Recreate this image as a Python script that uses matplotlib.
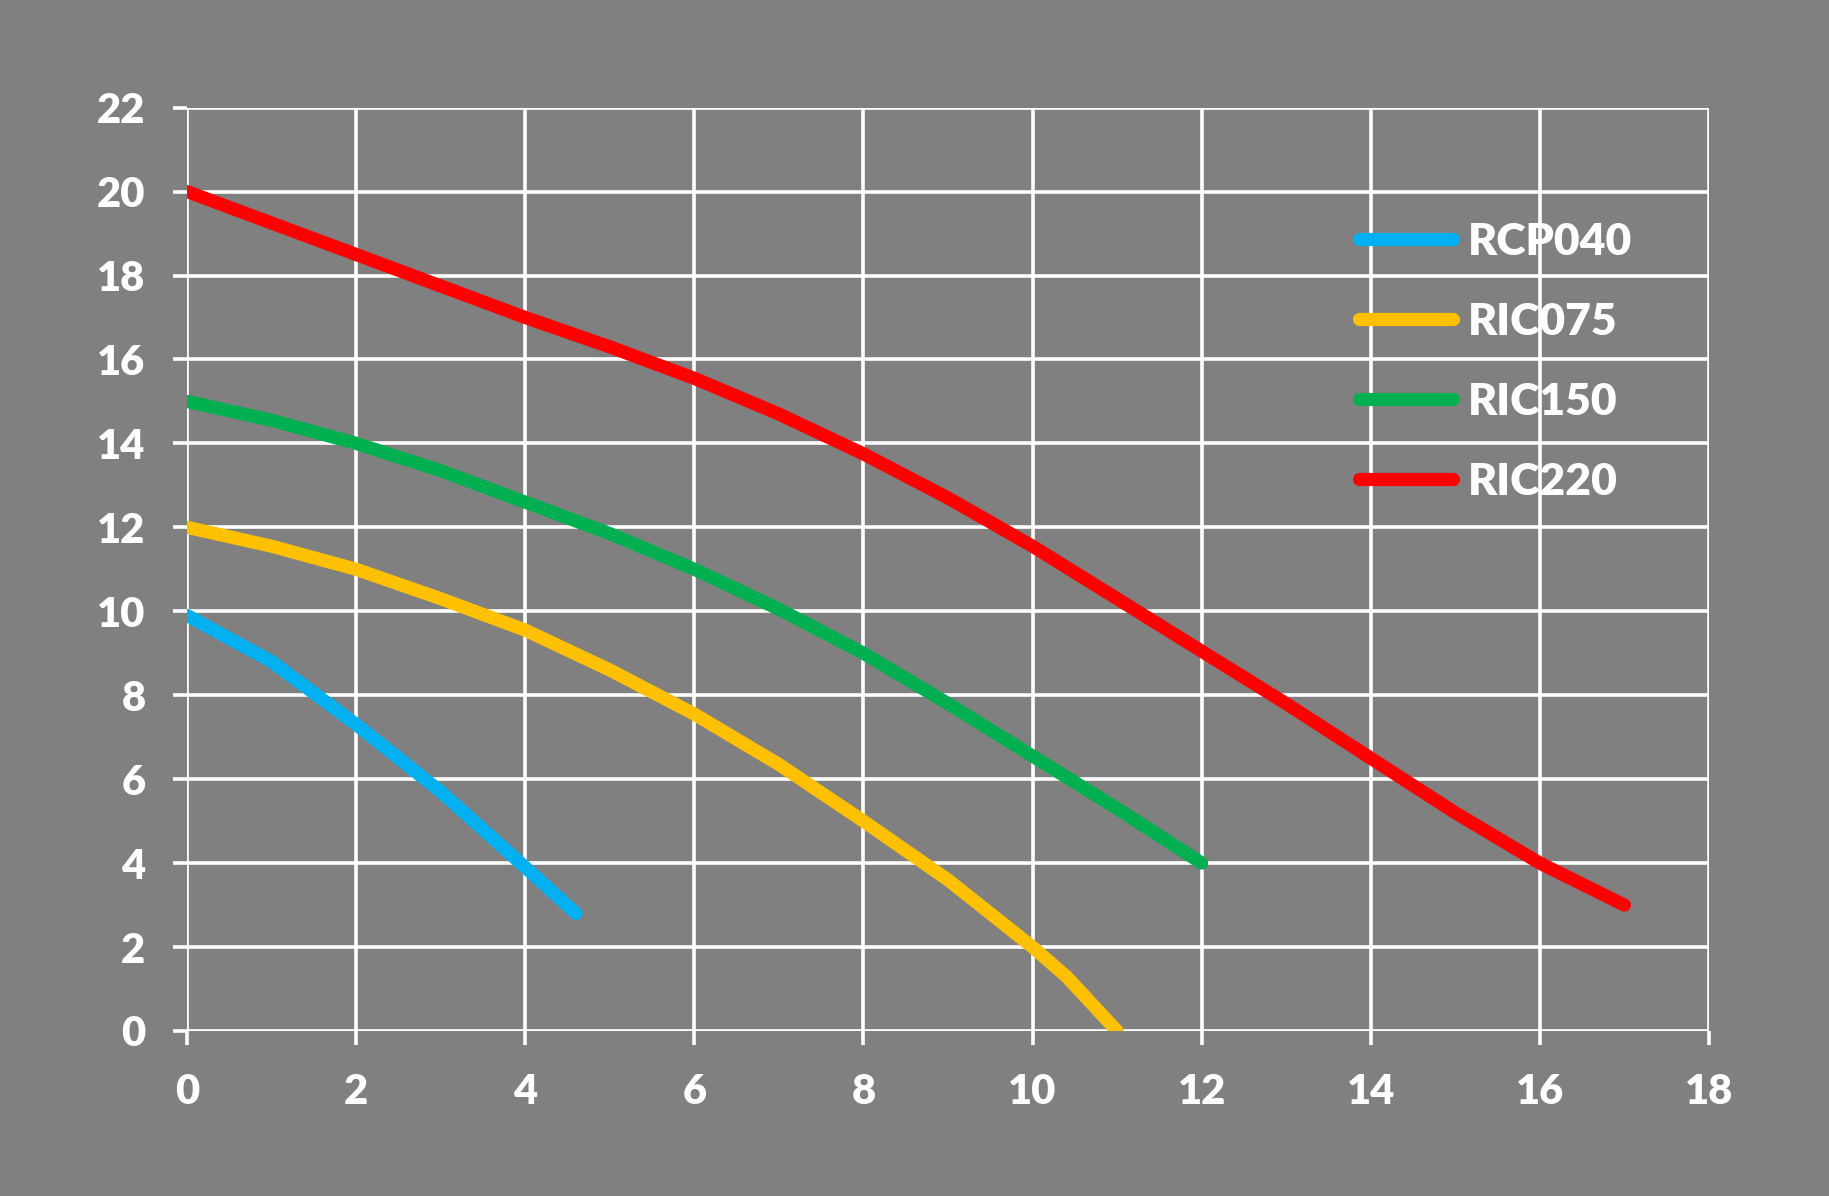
import matplotlib as mpl
mpl.use('Agg')
import matplotlib.pyplot as plt

# pump curves
rcp040_x = [0, 1, 2, 3, 4, 4.6]
rcp040_y = [9.9, 8.8, 7.3, 5.7, 3.9, 2.8]

ric075_x = [0, 1, 2, 3, 4, 5, 6, 7, 8, 9, 10, 10.4, 11]
ric075_y = [12, 11.55, 11, 10.3, 9.55, 8.6, 7.55, 6.35, 5.0, 3.6, 2.0, 1.3, 0]

ric150_x = [0, 1, 2, 3, 4, 5, 6, 7, 8, 9, 10, 11, 12]
ric150_y = [15, 14.55, 14.0, 13.35, 12.6, 11.85, 11.0, 10.05, 9.0, 7.8, 6.55, 5.3, 4.0]

ric220_x = [0, 1, 2, 3, 4, 5, 6, 7, 8, 9, 10, 11, 12, 13, 14, 15, 16, 17]
ric220_y = [20, 19.25, 18.5, 17.75, 17.0, 16.3, 15.55, 14.7, 13.75, 12.7, 11.55, 10.3, 9.05, 7.8, 6.5, 5.2, 4.0, 3.0]

series = [
    ('RCP040', rcp040_x, rcp040_y, '#00B0F0'),
    ('RIC075', ric075_x, ric075_y, '#FFC000'),
    ('RIC150', ric150_x, ric150_y, '#00B050'),
    ('RIC220', ric220_x, ric220_y, '#FF0000'),
]

xticks = list(range(0, 19, 2))
yticks = list(range(0, 23, 2))

plt.rcParams['font.family'] = ['Lato', 'DejaVu Sans']

fig = plt.figure(figsize=(18.29, 11.96), dpi=100, facecolor='#808080')
ax = fig.add_axes([0.1023, 0.138, 0.832, 0.772])
ax.set_facecolor('#808080')

for name, xs, ys, col in series:
    ax.plot(xs, ys, color=col, lw=9.5, label=name, solid_capstyle='round',
            solid_joinstyle='round', zorder=3)

ax.set_xlim(0, 18)
ax.set_ylim(0, 22)
ax.set_xticks(xticks)
ax.set_yticks(yticks)
ax.grid(True, color='white', lw=2.6, zorder=1)
ax.set_axisbelow(True)
for s in ax.spines.values():
    s.set_visible(False)
ax.tick_params(colors='white', labelcolor='white', labelsize=30,
               length=10, width=2.6, direction='out', pad=20)
for lab in ax.get_xticklabels() + ax.get_yticklabels():
    lab.set_fontweight('heavy')

leg = ax.legend(loc='upper left', bbox_to_anchor=(0.744, 0.92), frameon=False,
                handlelength=2.12, handletextpad=0.32, labelspacing=0.9,
                prop={'weight': 'heavy', 'size': 32})
for t in leg.get_texts():
    t.set_color('white')

fig.savefig('out.png', dpi=100, facecolor=fig.get_facecolor())
